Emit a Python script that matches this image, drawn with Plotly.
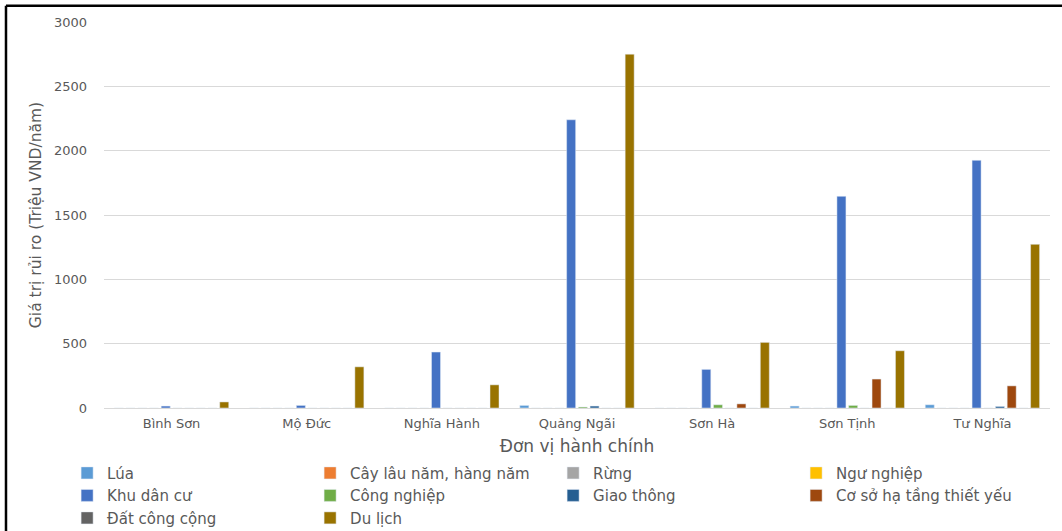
import plotly.graph_objects as go

districts = ['Bình Sơn', 'Mộ Đức', 'Nghĩa Hành', 'Quảng Ngãi', 'Sơn Hà', 'Sơn Tịnh', 'Tư Nghĩa']

lua = [0, 0, 0, 20, 0, 15, 25]
cay_lau_nam = [0, 0, 0, 0, 0, 0, 0]
rung = [0, 0, 0, 0, 0, 0, 0]
ngu_nghiep = [0, 0, 0, 0, 0, 0, 0]
khu_dan_cu = [15, 20, 435, 2240, 300, 1645, 1925]
cong_nghiep = [0, 0, 0, 8, 25, 20, 0]
giao_thong = [0, 0, 0, 15, 0, 0, 12]
co_so_ha_tang = [0, 0, 0, 0, 32, 225, 172]
dat_cong_cong = [0, 0, 0, 0, 0, 0, 0]
du_lich = [47, 320, 180, 2750, 510, 445, 1272]

series = [
    ('Lúa', lua, '#5B9BD5'),
    ('Cây lâu năm, hàng năm', cay_lau_nam, '#ED7D31'),
    ('Rừng', rung, '#A5A5A5'),
    ('Ngư nghiệp', ngu_nghiep, '#FFC000'),
    ('Khu dân cư', khu_dan_cu, '#4472C4'),
    ('Công nghiệp', cong_nghiep, '#70AD47'),
    ('Giao thông', giao_thong, '#255E91'),
    ('Cơ sở hạ tầng thiết yếu', co_so_ha_tang, '#9E480E'),
    ('Đất công cộng', dat_cong_cong, '#636363'),
    ('Du lịch', du_lich, '#997300'),
]

fig = go.Figure()
for name, vals, color in series:
    fig.add_trace(go.Bar(x=districts, y=vals, name=name, marker_color=color))

grey = '#595959'
fig.update_layout(
    width=1062, height=531,
    margin=dict(l=104, r=12, t=22, b=123, autoexpand=False),
    paper_bgcolor='white', plot_bgcolor='white',
    barmode='group', bargap=0.134, bargroupgap=0.23,
    font=dict(family='DejaVu Sans, sans-serif', color=grey),
    xaxis=dict(
        title=dict(text='Đơn vị hành chính', font=dict(size=17, color=grey), standoff=10),
        tickfont=dict(size=13, color=grey),
        showline=True, linecolor='#d9d9d9', linewidth=1,
        showgrid=False, ticks='', ticklabelstandoff=3,
    ),
    yaxis=dict(
        title=dict(text='Giá trị rủi ro (Triệu VND/năm)', font=dict(size=15.5, color=grey), standoff=8),
        range=[0, 3000], dtick=500,
        tickfont=dict(size=13, color=grey),
        gridcolor='#d9d9d9', gridwidth=1,
        zeroline=False, ticks='', ticklabelstandoff=16,
    ),
    legend=dict(
        orientation='h', x=-0.039, xanchor='left', y=-0.126, yanchor='top',
        font=dict(size=15, color=grey),
        entrywidth=198, itemwidth=30, traceorder='normal',
    ),
    shapes=[
        dict(type='line', xref='paper', yref='paper', x0=-0.1036, x1=-0.1036, y0=1.042, y1=-0.35,
             line=dict(color='black', width=2.5)),
        dict(type='line', xref='paper', yref='paper', x0=-0.1036, x1=1.03, y0=1.042, y1=1.042,
             line=dict(color='black', width=2.5)),
    ],
)

fig.write_html('out.html', config={'displayModeBar': False},
               post_script="document.body.style.margin='0';")
